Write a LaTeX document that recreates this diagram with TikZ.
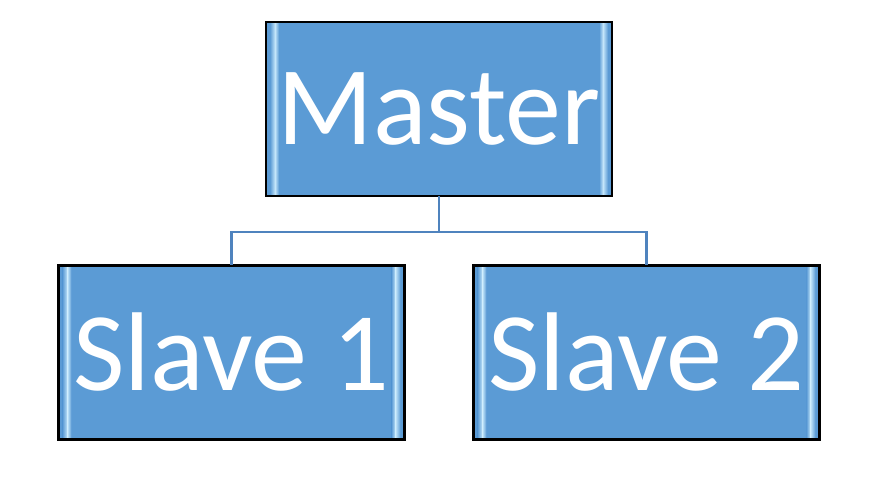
\documentclass[tikz,border=0pt]{standalone}
\usepackage{fontspec}
\setmainfont{Carlito}
\usetikzlibrary{calc}
\definecolor{boxblue}{HTML}{5B9BD5}
\definecolor{boxdark}{HTML}{4A86C0}
\definecolor{boxlight}{HTML}{C4E6FA}
\definecolor{linkblue}{HTML}{4F83BE}
\tikzset{
  bevelbox/.style={
    fill=boxblue, text=white,
    font=\fontsize{112}{112}\selectfont, inner sep=0pt,
    minimum width=346pt, minimum height=174pt,
    path picture={
      \coordinate (nw) at (path picture bounding box.north west);
      \coordinate (se) at (path picture bounding box.south east);
      % darker top and bottom bands
      \shade[top color=boxdark, bottom color=boxblue]
        ($(nw)+(0,-2)$) rectangle ($(nw -| se)+(0,-10)$);
      \shade[top color=boxblue, bottom color=boxdark]
        ($(se)+(0,10)$) rectangle ($(nw |- se)+(0,2)$);
      % light bevel strips on the left and right edges
      \shade[left color=boxblue, right color=boxlight]
        ($(nw)+(4,-8)$) -- ($(nw)+(9,-14)$) -- ($(nw |- se)+(9,14)$) -- ($(nw |- se)+(4,8)$) -- cycle;
      \shade[left color=boxlight, right color=boxblue]
        ($(nw)+(9,-14)$) -- ($(nw)+(13,-19)$) -- ($(nw |- se)+(13,19)$) -- ($(nw |- se)+(9,14)$) -- cycle;
      \shade[left color=boxblue, right color=boxlight]
        ($(nw -| se)+(-13,-19)$) -- ($(nw -| se)+(-9,-14)$) -- ($(se)+(-9,14)$) -- ($(se)+(-13,19)$) -- cycle;
      \shade[left color=boxlight, right color=boxblue]
        ($(nw -| se)+(-9,-14)$) -- ($(nw -| se)+(-4,-8)$) -- ($(se)+(-4,8)$) -- ($(se)+(-9,14)$) -- cycle;
    },
    postaction={draw=black, line width=2.2pt}
  },
  link/.style={draw=linkblue, line width=2.2pt},
  stem/.style={draw=linkblue, line width=2.8pt}
}
\begin{document}
\begin{tikzpicture}[x=1pt,y=-1pt]
  \useasboundingbox (0,0) rectangle (878,485);
  \node[bevelbox] (master) at (439,109) {Master};
  \node[bevelbox] (slave1) at (231.5,352.5) {Slave 1};
  \node[bevelbox] (slave2) at (646.5,352.5) {Slave 2};
  \coordinate (split) at (439,232);
  \draw[stem] (master.south) -- (split);
  \draw[link] (split) -| (slave1.north);
  \draw[link] (split) -| (slave2.north);
\end{tikzpicture}
\end{document}
